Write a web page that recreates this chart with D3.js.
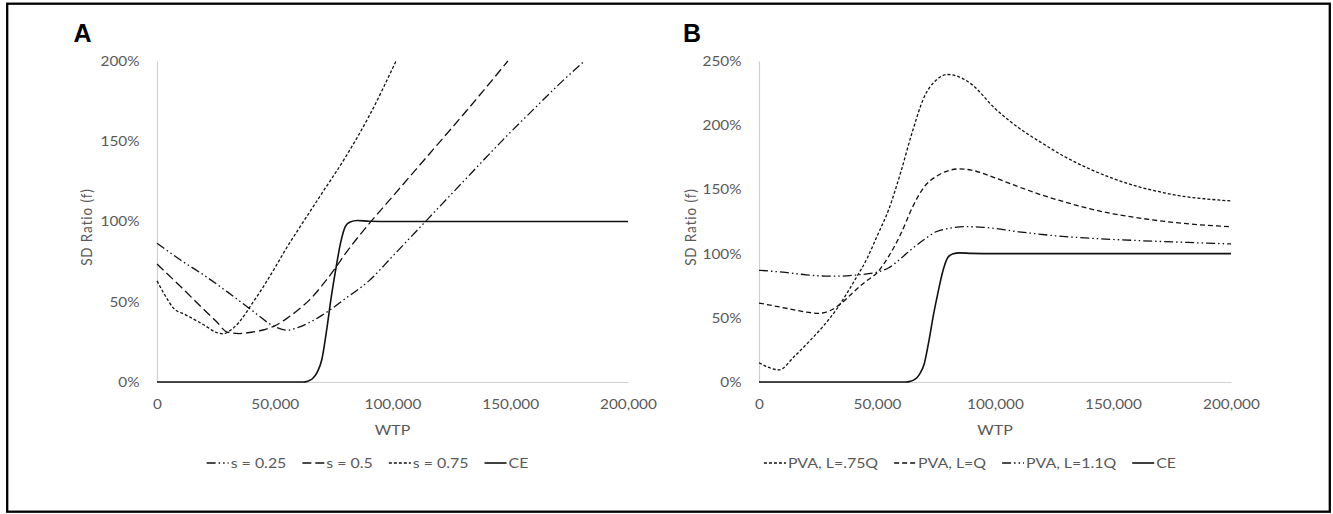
<html>
<head>
<style>
  body { margin: 0; background: #ffffff; }
  svg { display: block; font-family: Lato, "Open Sans", sans-serif; }
</style>
<script src="https://cdnjs.cloudflare.com/ajax/libs/d3/7.8.5/d3.min.js"></script>
</head>
<body>
<svg id="Chart"></svg>
<script>

// ---- data (WTP in $, SD ratio in %) ----
const wtpTicks = [0, 50000, 100000, 150000, 200000]
const pctTicksA = [0, 50, 100, 150, 200]
const pctTicksB = [0, 50, 100, 150, 200, 250]

// panel A
const wtpS025 = [0, 10000, 20000, 30000, 40000, 50000, 55000, 60000, 65000, 70000, 75000, 80000, 90000, 100000, 110000, 120000, 130000, 140000, 150000, 160000, 170000, 181500]
const sdS025  = [86.5, 76, 66.5, 56, 45, 34.5, 32.3, 34, 37.3, 41.5, 46.5, 52, 63, 78.3, 93.8, 109.3, 124.8, 140.3, 155.5, 170, 184.5, 200]

const wtpS05 = [0, 10000, 20000, 25000, 30000, 35000, 40000, 45000, 50000, 55000, 60000, 65000, 70000, 75000, 80000, 90000, 100000, 110000, 120000, 130000, 140000, 149000]
const sdS05  = [73.5, 59.5, 45, 38, 31, 30.2, 31, 32.4, 35, 39.5, 45, 51.5, 60, 69.5, 80, 98.5, 115.5, 132.5, 149.5, 166.5, 184, 200]

const wtpS075 = [0, 3000, 7000, 12000, 20000, 25000, 28000, 31000, 35000, 40000, 45000, 50000, 55000, 60000, 70000, 80000, 90000, 101500]
const sdS075  = [63, 55, 46, 42, 35.5, 31, 30, 32, 37.5, 48, 59, 71, 83.5, 95, 117.5, 140, 165.5, 200]

const wtpCE = [0, 62000, 64000, 66000, 68000, 70000, 72000, 74000, 76000, 78000, 80000, 82000, 85000, 90000, 100000, 200000]
const sdCE  = [0, 0, 0.5, 2, 6, 14, 32, 53, 71, 87, 97, 99.7, 100.6, 100.2, 100, 100]

// panel B
const wtpL075 = [0, 8500, 15000, 22000, 27000, 33000, 40000, 46000, 50000, 55000, 60000, 65000, 70000, 75000, 80000, 85000, 90000, 100000, 110000, 120000, 130000, 140000, 150000, 160000, 170000, 180000, 190000, 200000]
const sdL075  = [15, 9.5, 20, 33, 43, 57, 77.5, 97, 113.5, 134.5, 163, 195, 222, 235, 239.5, 237.5, 232, 213, 198, 186, 175, 166, 158.5, 152.5, 148, 144.5, 142.5, 141]

const wtpL1 = [0, 10000, 20000, 25000, 30000, 35000, 40000, 45000, 50000, 55000, 60000, 65000, 70000, 75000, 80000, 85000, 90000, 100000, 110000, 120000, 130000, 140000, 150000, 160000, 170000, 180000, 190000, 200000]
const sdL1  = [61.5, 58, 54.5, 53.5, 55.5, 61.5, 70, 78, 85, 98, 115, 136, 152, 160, 164.5, 166, 165, 159, 152, 145.5, 140, 135, 131, 128, 125.5, 123.5, 122, 121]

const wtpL11 = [0, 10000, 20000, 28000, 35000, 42000, 50000, 55000, 60000, 65000, 70000, 75000, 80000, 87000, 95000, 110000, 125000, 140000, 160000, 180000, 200000]
const sdL11  = [87, 85.5, 83.5, 82.5, 82.5, 83.5, 85.5, 89, 96, 104, 111, 117, 119.5, 121, 120.5, 117, 114, 112, 110.2, 108.8, 107.5]

// dash styles
const dashDotDot = "9,3,1.5,3,1.5,3"
const longDash = "9,4"
const shortDash = "3,2"
const midDash = "5,3"

let stretch = 1.18   // the source figure is squeezed wide, text included
let width = 1333
let height = 514

let svg = d3.select("#Chart").attr("width", width).attr("height", height)

svg.append("rect")
  .attr("x", 7.2).attr("y", 3.7)
  .attr("width", 1322.6).attr("height", 508)
  .attr("fill", "none").attr("stroke", "#000").attr("stroke-width", 2.3)

function drawPanel(cfg) {
  let x = d3.scaleLinear().domain([0, 200000]).range([cfg.left, cfg.right])
  let y = d3.scaleLinear().domain([0, cfg.yMax]).range([382, 61])
  let g = svg.append("g")

  // axes
  let yAxis = g.append("g")
    .attr("transform", `translate(${cfg.left},0)`)
    .call(d3.axisLeft(y).tickValues(cfg.yTicks).tickSize(0).tickSizeOuter(0)
      .tickFormat(d => d + "%"))
  let xAxis = g.append("g")
    .attr("transform", `translate(0,382)`)
    .call(d3.axisBottom(x).tickValues(wtpTicks).tickSize(0).tickSizeOuter(0)
      .tickFormat(d3.format(",")))

  g.selectAll(".domain").attr("stroke", "#d0d0d0").attr("stroke-width", 1.2)
  yAxis.selectAll("text")
    .attr("x", -17.5 / stretch).attr("dy", "0.34em")
    .attr("transform", `scale(${stretch},1)`)
  xAxis.selectAll("text")
    .attr("y", 17.5).attr("dy", "0.71em")
    .attr("transform", `scale(${stretch},1)`)
  g.selectAll(".tick text")
    .attr("fill", "#595959").style("font-size", "13px").style("font-family", "Lato, sans-serif")

  // titles
  g.append("text")
    .attr("transform", `translate(${cfg.titleX},227) scale(${stretch},1) rotate(-90)`)
    .attr("text-anchor", "middle").attr("dy", "0.35em")
    .attr("fill", "#595959").style("font-size", "13.5px").style("letter-spacing", "0.9px")
    .text("SD Ratio (f)")
  g.append("text")
    .attr("transform", `translate(${(cfg.left + cfg.right) / 2},435) scale(${stretch},1)`)
    .attr("text-anchor", "middle")
    .attr("fill", "#595959").style("font-size", "13.5px")
    .text("WTP")
  g.append("text")
    .attr("x", cfg.letterX).attr("y", 42)
    .attr("text-anchor", "middle")
    .style("font-family", "'Liberation Sans', Arial, sans-serif")
    .style("font-weight", "bold").style("font-size", "25px")
    .text(cfg.letter)

  // lines
  let line = d3.line()
    .x(d => x(d[0]))
    .y(d => y(d[1]))
    .curve(d3.curveMonotoneX)

  g.selectAll("path.series").data(cfg.series)
    .enter().append("path")
    .attr("class", "series")
    .attr("d", s => line(d3.zip(s.xs, s.ys)))
    .attr("fill", "none")
    .attr("stroke", "#111")
    .attr("stroke-width", s => s.dash ? 1.3 : 1.6)
    .attr("stroke-dasharray", s => s.dash)

  // legend
  let legend = g.append("g")
  let pos = 0
  cfg.series.forEach(s => {
    let item = legend.append("g").attr("transform", `translate(${pos},0)`)
    item.append("line")
      .attr("x1", 0).attr("x2", 22).attr("y1", 0).attr("y2", 0)
      .attr("stroke", "#111")
      .attr("stroke-width", s.dash ? 1.3 : 1.6)
      .attr("stroke-dasharray", s.dash)
    let t = item.append("text")
      .attr("transform", `translate(24,0) scale(${stretch},1)`)
      .attr("dy", "0.35em")
      .attr("fill", "#595959").style("font-size", "13.5px")
      .text(s.name)
    pos += 24 + t.node().getComputedTextLength() * stretch + 16
  })
  pos -= 16
  let cx = (cfg.left + cfg.right) / 2 - 25
  legend.attr("transform", `translate(${cx - pos / 2},463)`)
}

drawPanel({
  letter: "A", letterX: 82.5, titleX: 86,
  left: 157, right: 628, yMax: 200, yTicks: pctTicksA,
  series: [
    {name: "s = 0.25", xs: wtpS025, ys: sdS025, dash: dashDotDot},
    {name: "s = 0.5", xs: wtpS05, ys: sdS05, dash: longDash},
    {name: "s = 0.75", xs: wtpS075, ys: sdS075, dash: shortDash},
    {name: "CE", xs: wtpCE, ys: sdCE, dash: null}
  ]
})

drawPanel({
  letter: "B", letterX: 692, titleX: 690,
  left: 759, right: 1231, yMax: 250, yTicks: pctTicksB,
  series: [
    {name: "PVA, L=.75Q", xs: wtpL075, ys: sdL075, dash: shortDash},
    {name: "PVA, L=Q", xs: wtpL1, ys: sdL1, dash: midDash},
    {name: "PVA, L=1.1Q", xs: wtpL11, ys: sdL11, dash: dashDotDot},
    {name: "CE", xs: wtpCE, ys: sdCE, dash: null}
  ]
})

</script>
</body>
</html>
